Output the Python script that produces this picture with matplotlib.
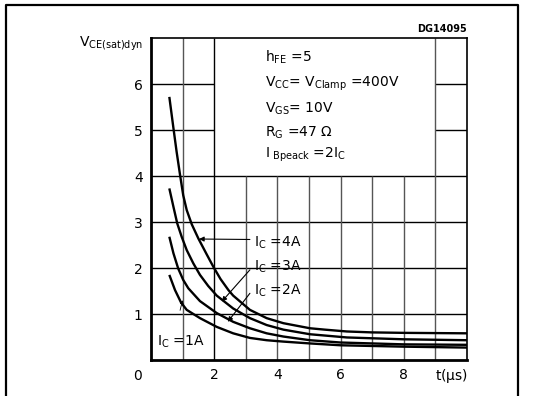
import numpy as np
import matplotlib
matplotlib.use("Agg")
from matplotlib import pyplot as plt

plt.rcParams['font.family'] = ['DejaVu Sans']
plt.rcParams['mathtext.default'] = 'regular'

# curves: t (us) vs VCE(sat)dyn (V)
t_4A = [0.58, 0.71, 0.81, 0.92, 1.02, 1.13, 1.29, 1.50, 1.76, 1.97, 2.20, 2.45, 2.60,
        3.13, 3.66, 4.19, 5.03, 5.50, 6.20, 7.0, 8.0, 10.0]
v_4A = [5.72, 5.04, 4.53, 4.02, 3.58, 3.26, 2.95, 2.64, 2.30, 2.03, 1.76, 1.52, 1.40,
        1.09, 0.91, 0.80, 0.69, 0.66, 0.62, 0.60, 0.59, 0.58]

t_3A = [0.58, 0.71, 0.83, 0.97, 1.13, 1.34, 1.55, 1.81, 2.08, 2.60, 3.13, 3.66, 4.19,
        5.03, 6.20, 8.0, 10.0]
v_3A = [3.73, 3.33, 2.97, 2.68, 2.39, 2.10, 1.85, 1.61, 1.40, 1.12, 0.91, 0.76, 0.66,
        0.56, 0.49, 0.45, 0.43]

t_2A = [0.58, 0.71, 0.86, 1.02, 1.18, 1.55, 2.08, 2.60, 3.13, 3.66, 4.19, 5.03, 6.0, 8.0, 10.0]
v_2A = [2.68, 2.32, 1.99, 1.74, 1.56, 1.28, 1.02, 0.83, 0.69, 0.58, 0.51, 0.43, 0.38, 0.34, 0.33]

t_1A = [0.58, 0.76, 0.95, 1.13, 1.55, 2.08, 2.60, 3.13, 3.66, 4.19, 5.03, 6.0, 8.0, 10.0]
v_1A = [1.85, 1.52, 1.25, 1.09, 0.91, 0.72, 0.58, 0.48, 0.43, 0.40, 0.36, 0.32, 0.29, 0.27]

curve_labels = ['$I_C$ =4A', '$I_C$ =3A', '$I_C$ =2A']
label_y = [2.54, 2.02, 1.51]
arrow_tips = [(1.52, 2.63), (2.24, 1.27), (2.43, 0.83)]

cond_lines = ['$h_{FE}$ =5', '$V_{CC}$= $V_{Clamp}$ =400V', '$V_{GS}$= 10V',
              '$R_G$ =47 $\\Omega$', '$I_{\\ Bpeack}$ =2$I_C$']
cond_y = [6.58, 6.01, 5.47, 4.93, 4.46]

fig = plt.figure(figsize=(5.33, 3.96), dpi=100)
ax = fig.add_axes([151/533, 1-360/396, 316/533, 322/396])
ax.set_xlim(0, 10)
ax.set_ylim(0, 7)

# grid with a blank area for the test conditions
ax.hlines([1, 2, 3, 4], 0, 10, color='black', lw=1.0)
ax.hlines([5, 6], 0, 2, color='black', lw=1.0)
ax.hlines([5, 6], 9, 10, color='black', lw=1.0)
ax.vlines([1, 9], 0, 7, color='#555555', lw=1.0)
ax.vlines([2], 0, 7, color='black', lw=1.0)
ax.vlines(range(3, 9), 0, 4, color='#555555', lw=1.0)

for t, v in [(t_4A, v_4A), (t_3A, v_3A), (t_2A, v_2A), (t_1A, v_1A)]:
    ax.plot(t, v, color='black', lw=1.7, solid_capstyle='butt', solid_joinstyle='round')

for s, y, tip in zip(curve_labels, label_y, arrow_tips):
    ax.text(3.25, y, s, fontsize=10, va='center', ha='left')
    ax.annotate('', xy=tip, xytext=(3.13, y + 0.08 if s.endswith('4A') else y - 0.06),
                arrowprops=dict(arrowstyle='-|>', color='black', lw=0.8,
                                mutation_scale=7, shrinkA=0, shrinkB=0))
ax.text(0.2, 0.4, '$I_C$ =1A', fontsize=10, va='center', ha='left')
ax.annotate('', xy=(1.0, 1.3), xytext=(0.92, 1.08),
            arrowprops=dict(arrowstyle='-|>', color='black', lw=0.6,
                            mutation_scale=5, shrinkA=0, shrinkB=0))

for s, y in zip(cond_lines, cond_y):
    ax.text(3.6, y, s, fontsize=10, va='center', ha='left')

for sp in ['left', 'bottom']:
    ax.spines[sp].set_linewidth(2.0)
for sp in ['top', 'right']:
    ax.spines[sp].set_linewidth(1.2)

ax.set_xticks([2, 4, 6, 8])
ax.set_yticks([1, 2, 3, 4, 5, 6])
ax.tick_params(length=0, labelsize=10, pad=6)
ax.text(-0.3, -0.35, '0', fontsize=10, ha='right', va='center')
ax.text(10.05, -0.35, 't($\\mu$s)', fontsize=10, ha='right', va='center')
ax.text(-0.25, 6.88, '$V_{CE(sat)dyn}$', fontsize=10, ha='right', va='center')
ax.text(10.0, 7.08, 'DG14095', fontsize=7, ha='right', va='bottom', fontweight='bold')

# outer frame of the datasheet figure
fig.add_artist(plt.Line2D([6/533, 6/533, 518/533, 518/533], [0, 1-5/396, 1-5/396, 0],
                          transform=fig.transFigure, color='black', lw=1.6))

fig.savefig('out.png', dpi=100)
